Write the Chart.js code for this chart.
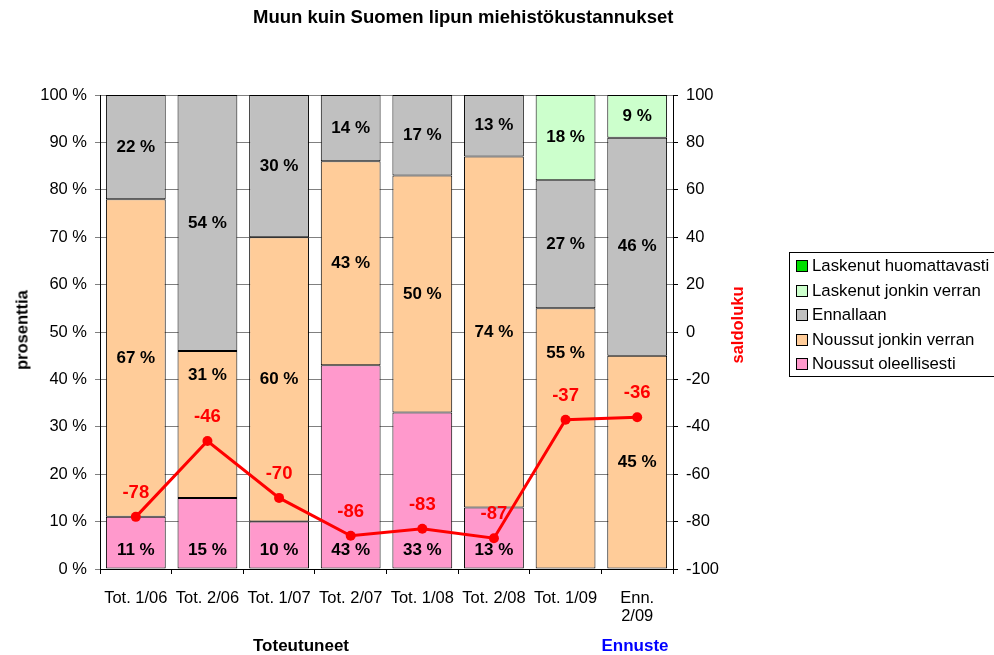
<!DOCTYPE html>
<html>
<head>
<meta charset="utf-8">
<script src="https://cdn.jsdelivr.net/npm/chart.js@4/dist/chart.umd.min.js"></script>
<style>
  html, body { margin: 0; padding: 0; background: #fff; }
  #wrap { position: relative; width: 994px; height: 655px; font-family: "Liberation Sans", Arial, sans-serif; }
  #wrap canvas { position: absolute; left: 0; top: 0; }
  .txt { position: absolute; white-space: nowrap; font-weight: bold; }
  #title { left: 253px; top: 17px; font-size: 18.5px; transform: translateY(-50%); }
  #ytitle { left: 22px; top: 330px; font-size: 16.5px; transform: translate(-50%, -50%) rotate(-90deg); }
  #y1title { left: 737px; top: 325px; font-size: 16.5px; color: #ff0000; transform: translate(-50%, -50%) rotate(-90deg); }
  #xt1 { left: 301px; top: 646px; font-size: 17px; transform: translate(-50%, -50%); }
  #xt2 { left: 635px; top: 646px; font-size: 17px; color: #0000ff; transform: translate(-50%, -50%); }
  #legend { position: absolute; left: 789px; top: 252px; width: 215px; height: 125px; border: 1px solid #000; box-sizing: border-box; font-size: 16.8px; }
  #legend div { position: absolute; left: 6px; white-space: nowrap; line-height: 20px; }
  #legend span { display: inline-block; width: 10px; height: 10px; border: 1px solid #000; margin-right: 4px; vertical-align: -1px; }
</style>
</head>
<body>
<div id="wrap">
  <canvas id="chart" width="994" height="655"></canvas>
  <div class="txt" id="title">Muun kuin Suomen lipun miehistökustannukset</div>
  <div class="txt" id="ytitle">prosenttia</div>
  <div class="txt" id="y1title">saldoluku</div>
  <div class="txt" id="xt1">Toteutuneet</div>
  <div class="txt" id="xt2">Ennuste</div>
  <div id="legend"></div>
</div>
<script>
const labels = ["Tot. 1/06", "Tot. 2/06", "Tot. 1/07", "Tot. 2/07", "Tot. 1/08", "Tot. 2/08", "Tot. 1/09", ["Enn.", "2/09"]];

const noussutOleellisesti = [11, 15, 10, 43, 33, 13, 0, 0];
const noussutJonkin = [67, 31, 60, 43, 50, 74, 55, 45];
const ennallaan = [22, 54, 30, 14, 17, 13, 27, 46];
const laskenutJonkin = [0, 0, 0, 0, 0, 0, 18, 9];
const laskenutHuom = [0, 0, 0, 0, 0, 0, 0, 0];
const saldoluku = [-78, -46, -70, -86, -83, -87, -37, -36];

const barSeries = [
  { label: "Noussut oleellisesti", data: noussutOleellisesti, color: "#ff99cc" },
  { label: "Noussut jonkin verran", data: noussutJonkin, color: "#ffcc99" },
  { label: "Ennallaan", data: ennallaan, color: "#c0c0c0" },
  { label: "Laskenut jonkin verran", data: laskenutJonkin, color: "#ccffcc" },
  { label: "Laskenut huomattavasti", data: laskenutHuom, color: "#00dd00" }
];

const FONT = "'Liberation Sans', Arial, sans-serif";

// legend, top-down in reverse stacking order
const legendEl = document.getElementById("legend");
barSeries.slice().reverse().forEach((s, i) => {
  const d = document.createElement("div");
  d.style.top = (3 + i * 24.6) + "px";
  d.innerHTML = '<span style="background:' + s.color + '"></span>' + s.label;
  legendEl.appendChild(d);
});

// value labels on bars and on the line
const valueLabels = {
  id: "valueLabels",
  afterDatasetsDraw(chart) {
    const ctx = chart.ctx;
    const lineIdx = chart.data.datasets.findIndex(d => d.type === "line");
    const lineMeta = chart.getDatasetMeta(lineIdx);
    ctx.save();
    ctx.textAlign = "center";
    ctx.textBaseline = "middle";
    chart.data.datasets.forEach((ds, di) => {
      const meta = chart.getDatasetMeta(di);
      meta.data.forEach((el, i) => {
        const v = ds.data[i];
        if (ds.type === "line") {
          ctx.font = "bold 18.5px " + FONT;
          ctx.fillStyle = "#ff0000";
          ctx.fillText(String(v), el.x, el.y - 24);
        } else if (v > 0) {
          let y = (el.y + el.base) / 2;
          if (di === 0) {
            // bottom series: label sits at the base
            y = el.base - 18;
          } else {
            // keep clear of the saldo label
            const ly = lineMeta.data[i].y - 24;
            if (Math.abs(y - ly) < 50) y = ly - 42;
          }
          ctx.font = "bold 17px " + FONT;
          ctx.fillStyle = "#000";
          ctx.fillText(v + " %", el.x, y);
        }
      });
    });
    ctx.restore();
  }
};

const datasets = barSeries.map(s => ({
  type: "bar",
  label: s.label,
  data: s.data,
  backgroundColor: s.color,
  borderColor: "#000",
  borderWidth: 1,
  borderSkipped: false,
  categoryPercentage: 1,
  barPercentage: 0.835,
  yAxisID: "y",
  order: 2
}));
datasets.push({
  type: "line",
  label: "saldoluku",
  data: saldoluku,
  borderColor: "#ff0000",
  backgroundColor: "#ff0000",
  borderWidth: 3,
  pointRadius: 5,
  pointBackgroundColor: "#ff0000",
  pointBorderWidth: 0,
  tension: 0,
  yAxisID: "y1",
  order: 1
});

const ctx = document.getElementById("chart").getContext("2d");
new Chart(ctx, {
  data: { labels: labels, datasets: datasets },
  plugins: [valueLabels],
  options: {
    responsive: false,
    animation: false,
    devicePixelRatio: 1,
    layout: { padding: { top: 95, left: 0, right: 0, bottom: 0 } },
    plugins: {
      legend: { display: false },
      tooltip: { enabled: false },
      title: { display: false }
    },
    scales: {
      x: {
        stacked: true,
        afterFit: s => { s.height = 86; },
        grid: { offset: true, drawOnChartArea: false, tickLength: 5, color: "#000" },
        border: { color: "#000", width: 1 },
        ticks: { color: "#000", font: { family: FONT, size: 16.5, lineHeight: 1.1 }, padding: 15, maxRotation: 0, autoSkip: false }
      },
      y: {
        stacked: true,
        position: "left",
        min: 0,
        max: 100,
        afterFit: s => { s.width = 100; },
        grid: { color: "#808080", tickLength: 5 },
        border: { color: "#000", width: 1 },
        ticks: { stepSize: 10, color: "#000", font: { family: FONT, size: 16.5 }, padding: 8, callback: v => v + " %" }
      },
      y1: {
        position: "right",
        min: -100,
        max: 100,
        afterFit: s => { s.width = 321; },
        grid: { drawOnChartArea: false, tickLength: 5, color: "#000" },
        border: { color: "#000", width: 1 },
        ticks: { stepSize: 20, color: "#000", font: { family: FONT, size: 16.5 }, padding: 8 }
      }
    }
  }
});
</script>
</body>
</html>
